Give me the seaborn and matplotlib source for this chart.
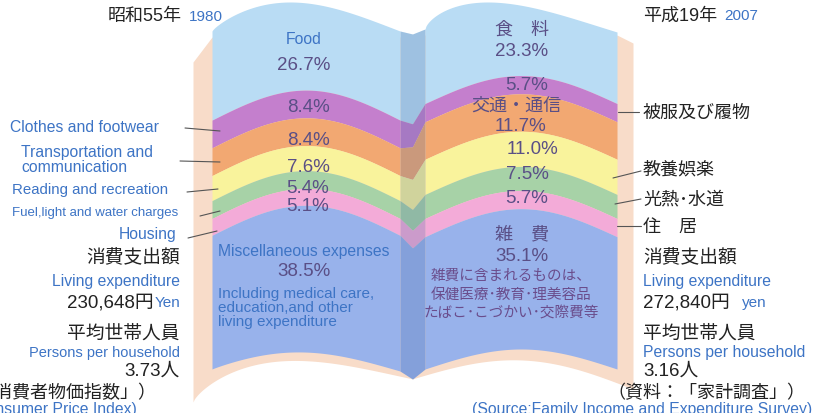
import numpy as np
import matplotlib.pyplot as plt
import seaborn as sns

sns.set_theme(style="white")
plt.rcParams['font.family'] = ['Liberation Sans', 'Noto Sans CJK JP']

# --- data ---
eras = ["昭和55年", "平成19年"]
years = ["1980", "2007"]
labels_en = ["Food", "Clothes and footwear", "Transportation and\ncommunication",
             "Reading and recreation", "Fuel,light and water charges", "Housing",
             "Miscellaneous expenses"]
labels_ja = ["食　料", "被服及び履物", "交通・通信", "教養娯楽", "光熱･水道", "住　居", "雑　費"]
share_1980 = [26.7, 8.4, 8.4, 7.6, 5.4, 5.1, 38.5]
share_2007 = [23.3, 5.7, 11.7, 11.0, 7.5, 5.7, 35.1]
spending = ["230,648円", "272,840円"]
spending_unit = ["Yen", "yen"]
household = ["3.73人", "3.16人"]
misc_note_en = "Including medical care,\neducation,and other\nliving expenditure"
misc_note_ja = "雑費に含まれるものは、\n保健医療･教育･理美容品\nたばこ･こづかい･交際費等"

band_colors = sns.color_palette(["#b9dcf4", "#c47fcd", "#f2a872", "#f9f39c",
                                 "#a7d2a7", "#f3abd8", "#98b2eb"])
BLUE = "#3d74c5"
PCT = "#5a4f86"
INK = "#222222"

# --- book geometry ---
LX0, LX1, RX0, RX1 = 212, 400, 425, 617
L_SCALE, R_SCALE = 3.3, 3.2


def left_page(x, shares):
    t = (x - LX0) / (LX1 - LX0)
    top = 32 - 29 * np.sin(np.pi * t ** 0.79)
    base = 33 - 30 * np.sin(np.pi * t)
    cum = np.cumsum(shares)[:-1]
    bounds = [base + c * L_SCALE for c in cum]
    bottom = 370 - 18 * np.sin(np.pi * t ** 0.92) + 2 * t
    return [top] + bounds + [bottom]


def right_page(x, shares):
    t = (x - RX0) / (RX1 - RX0)
    top = 30 - 28 * np.sin(np.pi * t ** 0.64) + 3 * t
    base = 30 - 28 * np.sin(np.pi * t)
    cum = np.cumsum(shares)[:-1]
    bounds = [base + c * R_SCALE for c in cum]
    bottom = 370 - 20 * np.sin(np.pi * t)
    return [top] + bounds + [bottom]


def spine(x):
    s = (x - LX1) / (RX0 - LX1)
    v = 1 - np.abs(2 * s - 1)
    lv = left_page(np.array([LX1]), share_1980)
    rv = right_page(np.array([RX0]), share_2007)
    n = len(lv)
    out = []
    for i in range(n):
        dip = 4 if i == 0 else (9 if i == n - 1 else 12)
        out.append((1 - s) * lv[i][0] + s * rv[i][0] + dip * v)
    return out


fig = plt.figure(figsize=(8.15, 4.14), dpi=100)
ax = fig.add_axes([0, 0, 1, 1])
ax.set_xlim(0, 815)
ax.set_ylim(414, 0)
ax.axis('off')

# page stacks behind
PEACH = "#f8dcc9"
xs_l = np.linspace(193, 413, 200)
u = (xs_l - 193) / 220
ax.fill_between(xs_l, 63 - 25 * np.clip((xs_l - 193) / 19, 0, 1),
                403 - 23 * u - 32 * np.sin(np.pi * u ** 0.7), color=PEACH, lw=0)
xs_r = np.linspace(412, 633, 200)
v = (xs_r - 412) / 221
ax.fill_between(xs_r, 36 + 8 * np.clip((xs_r - 617) / 16, 0, 1),
                380 + 10 * v - 24 * np.sin(np.pi * v), color=PEACH, lw=0)

# page bands
xl = np.linspace(LX0, LX1, 200)
xm = np.linspace(LX1, RX0, 40)
xr = np.linspace(RX0, RX1, 200)
for xx, curves in [(xl, left_page(xl, share_1980)), (xm, spine(xm)),
                   (xr, right_page(xr, share_2007))]:
    for i, col in enumerate(band_colors):
        ax.fill_between(xx, curves[i], curves[i + 1], color=col, lw=0)

# spine shading
sc = spine(xm)
ax.fill_between(xm, sc[0], sc[-1], color="#3f64a0", alpha=0.22, lw=0)

# --- headers ---
ax.text(182, 17, eras[0], ha='right', va='center', fontsize=13, color=INK)
ax.text(189, 17, years[0], ha='left', va='center', fontsize=11, color=BLUE)
ax.text(643, 16, eras[1], ha='left', va='center', fontsize=13, color=INK)
ax.text(724, 16, years[1], ha='left', va='center', fontsize=11, color=BLUE)

# --- left page labels ---
LCX = 304
ax.text(LCX, 40, labels_en[0], ha='center', va='center', fontsize=11.3, color=BLUE)
ax.text(LCX, 65, f"{share_1980[0]}%", ha='center', va='center', fontsize=13.5, color=PCT)
lc = left_page(np.array([308.0]), share_1980)
l_offsets = [0, 3, 8, 8, 8, 9]
for i in range(1, 6):
    ymid = (lc[i][0] + lc[i + 1][0]) / 2 + l_offsets[i]
    ax.text(308, ymid, f"{share_1980[i]}%", ha='center', va='center', fontsize=13.5, color=PCT)
ax.text(LCX, 252, labels_en[6], ha='center', va='center', fontsize=11.3, color=BLUE)
ax.text(LCX, 272, f"{share_1980[6]}%", ha='center', va='center', fontsize=13.5, color=PCT)
ax.text(218, 308, misc_note_en, ha='left', va='center', fontsize=11, color=BLUE,
        linespacing=0.98)

# --- right page labels ---
RCX = 522
ax.text(RCX, 30, labels_ja[0], ha='center', va='center', fontsize=13, color=PCT)
ax.text(RCX, 52, f"{share_2007[0]}%", ha='center', va='center', fontsize=13.5, color=PCT)
rc = right_page(np.array([525.0]), share_2007)
rmid = [(rc[i][0] + rc[i + 1][0]) / 2 for i in range(7)]
ax.text(527, rmid[1], f"{share_2007[1]}%", ha='center', va='center', fontsize=13.5, color=PCT)
ax.text(516, 106, labels_ja[2], ha='center', va='center', fontsize=13, color=PCT)
ax.text(520, 127, f"{share_2007[2]}%", ha='center', va='center', fontsize=13.5, color=PCT)
ax.text(533, rmid[3], f"{share_2007[3]}%", ha='center', va='center', fontsize=13.5, color=PCT)
ax.text(527, rmid[4] - 5, f"{share_2007[4]}%", ha='center', va='center', fontsize=13.5, color=PCT)
ax.text(527, rmid[5] - 2, f"{share_2007[5]}%", ha='center', va='center', fontsize=13.5, color=PCT)
ax.text(RCX, 235, labels_ja[6], ha='center', va='center', fontsize=13, color=PCT)
ax.text(RCX, 257, f"{share_2007[6]}%", ha='center', va='center', fontsize=13.5, color=PCT)
ax.text(511, 295, misc_note_ja, ha='center', va='center', fontsize=10.5, color="#6a4d8c",
        linespacing=1.45)

# --- left outside labels with leaders ---
lead = dict(color="#555555", lw=0.8)
ax.text(10, 128, labels_en[1], ha='left', va='center', fontsize=11.3, color=BLUE)
ax.plot([185, 220], [129, 132], **lead)
ax.text(21, 160, labels_en[2], ha='left', va='center', fontsize=11.3, color=BLUE,
        linespacing=0.95)
ax.plot([180, 220], [162, 163], **lead)
ax.text(12, 190, labels_en[3], ha='left', va='center', fontsize=10.8, color=BLUE)
ax.plot([187, 218], [193, 190], **lead)
ax.text(12, 213, labels_en[4], ha='left', va='center', fontsize=9.5, color=BLUE)
ax.plot([200, 220], [217, 212], **lead)
ax.text(176, 235, labels_en[5], ha='right', va='center', fontsize=11.3, color=BLUE)
ax.plot([188, 217], [239, 232], **lead)

# --- right outside labels with leaders ---
ax.text(643, 113, labels_ja[1], ha='left', va='center', fontsize=13, color=INK)
ax.plot([618, 639], [113, 113], **lead)
ax.text(643, 170, labels_ja[3], ha='left', va='center', fontsize=13, color=INK)
ax.plot([613, 641], [179, 172], **lead)
ax.text(643, 200, labels_ja[4], ha='left', va='center', fontsize=13, color=INK)
ax.plot([615, 641], [205, 200], **lead)
ax.text(643, 227, labels_ja[5], ha='left', va='center', fontsize=13, color=INK)
ax.plot([617, 641], [227, 227], **lead)

# --- left summary ---
ax.text(180, 258, "消費支出額", ha='right', va='center', fontsize=13.5, color=INK)
ax.text(180, 282, "Living expenditure", ha='right', va='center', fontsize=11.3, color=BLUE)
ax.text(154, 303, spending[0], ha='right', va='center', fontsize=13.5, color=INK)
ax.text(155, 303, spending_unit[0], ha='left', va='center', fontsize=11, color=BLUE)
ax.text(180, 334, "平均世帯人員", ha='right', va='center', fontsize=13.5, color=INK)
ax.text(180, 353, "Persons per household", ha='right', va='center', fontsize=10.5, color=BLUE)
ax.text(180, 371, household[0], ha='right', va='center', fontsize=13.5, color=INK)
ax.text(156, 393, "（資料：「消費者物価指数」）", ha='right', va='center', fontsize=13, color=INK)
ax.text(137, 410, "(Consumer Price Index)", ha='right', va='center', fontsize=11.3, color=BLUE)

# --- right summary ---
ax.text(643, 258, "消費支出額", ha='left', va='center', fontsize=13.5, color=INK)
ax.text(643, 282, "Living expenditure", ha='left', va='center', fontsize=11.3, color=BLUE)
ax.text(643, 303, spending[1], ha='left', va='center', fontsize=13.5, color=INK)
ax.text(742, 303, spending_unit[1], ha='left', va='center', fontsize=11, color=BLUE)
ax.text(643, 334, "平均世帯人員", ha='left', va='center', fontsize=13.5, color=INK)
ax.text(643, 353, "Persons per household", ha='left', va='center', fontsize=11.3, color=BLUE)
ax.text(643, 371, household[1], ha='left', va='center', fontsize=13.5, color=INK)
ax.text(805, 393, "（資料：「家計調査」）", ha='right', va='center', fontsize=13, color=INK)
ax.text(812, 410, "(Source:Family Income and Expenditure Survey)", ha='right', va='center',
        fontsize=11.3, color=BLUE)

fig.savefig("out.png", dpi=100)
